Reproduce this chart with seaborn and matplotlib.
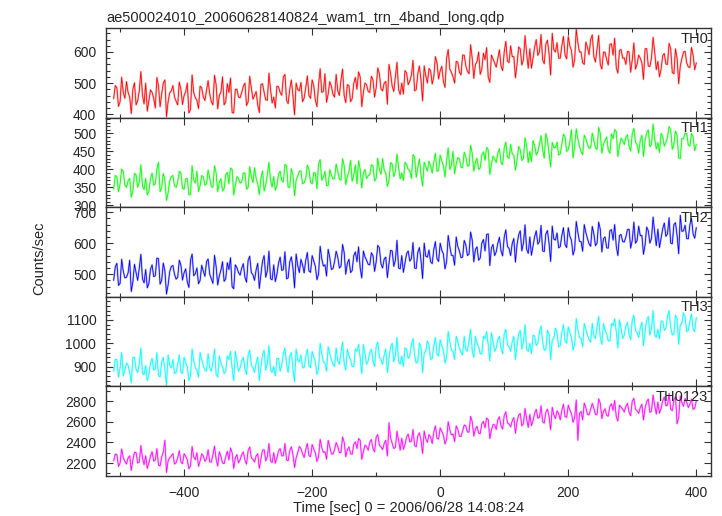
import numpy as np
import pandas as pd
import matplotlib
matplotlib.use("Agg")
import matplotlib.pyplot as plt
from matplotlib.ticker import MultipleLocator
import seaborn as sns

sns.set_style("ticks")
plt.rcParams['font.family'] = ['Liberation Sans', 'DejaVu Sans']

# time bins (sec): full 5 s grid and the half-step grid in between
time_a = np.arange(-510, 401, 5)
time_b = np.arange(-507.5, 400, 5)

th0_a = [450, 485, 440, 470, 505, 455, 480, 430, 475, 460,
         500, 445, 470, 420, 490, 465, 510, 440, 475, 455,
         430, 480, 460, 500, 415, 470, 445, 490, 455, 475,
         465, 430, 495, 460, 520, 440, 470, 405, 480, 455,
         470, 500, 440, 485, 460, 430, 495, 470, 445, 480,
         455, 490, 470, 520, 445, 480, 460, 500, 475, 440,
         485, 460, 510, 445, 495, 470, 530, 465, 490, 455,
         475, 510, 460, 495, 440, 500, 480, 520, 470, 495,
         470, 510, 485, 530, 475, 505, 560, 490, 520, 480,
         500, 540, 495, 525, 475, 530, 510, 555, 500, 540,
         520, 565, 540, 505, 580, 545, 520, 570, 535, 590,
         555, 530, 580, 560, 600, 545, 575, 520, 590, 565,
         580, 555, 600, 570, 620, 585, 560, 610, 575, 595,
         610, 580, 640, 600, 575, 625, 595, 660, 600, 580,
         620, 590, 650, 605, 575, 630, 600, 560, 615, 640,
         585, 610, 560, 600, 575, 625, 590, 550, 605, 580,
         560, 600, 575, 545, 590, 565, 610, 555, 580, 600,
         570, 545, 595, 560, 610, 530, 580, 555, 600, 565,
         550, 590, 565]
th0_b = [492, 425, 519, 451, 470, 402, 501, 443, 537, 433,
         410, 478, 451, 518, 424, 500, 392, 469, 492, 442,
         503, 431, 472, 404, 526, 453, 418, 485, 444, 508,
         440, 525, 417, 471, 430, 498, 516, 404, 480, 453,
         490, 428, 522, 448, 473, 405, 498, 446, 532, 436,
         420, 488, 461, 528, 434, 510, 398, 479, 502, 452,
         523, 451, 492, 424, 546, 473, 438, 505, 464, 528,
         460, 545, 437, 491, 450, 518, 536, 424, 500, 473,
         522, 455, 549, 481, 500, 432, 531, 473, 567, 463,
         465, 533, 506, 573, 479, 555, 443, 524, 547, 497,
         585, 513, 554, 486, 608, 535, 500, 567, 526, 590,
         538, 623, 515, 569, 528, 596, 614, 502, 578, 551,
         607, 540, 634, 566, 585, 517, 616, 558, 652, 548,
         548, 616, 589, 656, 562, 638, 526, 607, 630, 580,
         650, 578, 619, 551, 673, 600, 565, 632, 591, 655,
         568, 653, 545, 599, 558, 626, 644, 532, 608, 581,
         602, 535, 629, 561, 580, 512, 611, 553, 647, 543,
         520, 588, 561, 628, 534, 610, 498, 579, 602, 552,
         615, 543]

th1_a = [345, 380, 360, 395, 350, 375, 340, 385, 365, 355,
         375, 340, 390, 360, 420, 350, 370, 335, 380, 355,
         365, 390, 345, 375, 330, 370, 395, 355, 380, 360,
         375, 350, 390, 365, 340, 385, 360, 400, 355, 375,
         365, 390, 350, 380, 405, 360, 375, 340, 385, 370,
         380, 355, 395, 365, 410, 350, 385, 370, 395, 360,
         375, 400, 360, 390, 415, 370, 395, 355, 385, 375,
         395, 370, 410, 380, 425, 385, 360, 400, 390, 375,
         385, 410, 375, 400, 430, 390, 370, 415, 395, 405,
         390, 420, 400, 375, 435, 405, 385, 420, 395, 410,
         420, 395, 440, 410, 425, 400, 450, 415, 430, 405,
         435, 410, 445, 420, 400, 440, 425, 455, 415, 430,
         445, 420, 460, 435, 470, 440, 425, 455, 430, 465,
         450, 480, 440, 470, 455, 500, 445, 475, 460, 440,
         470, 490, 455, 510, 465, 485, 450, 495, 470, 460,
         480, 455, 500, 470, 490, 445, 485, 505, 465, 480,
         490, 465, 500, 475, 445, 495, 480, 510, 470, 485,
         475, 500, 465, 490, 510, 470, 495, 430, 485, 500,
         465, 490, 470]
th1_b = [383, 338, 401, 356, 368, 323, 389, 350, 413, 344,
         329, 374, 356, 401, 338, 389, 314, 368, 383, 350,
         395, 347, 374, 329, 410, 362, 338, 383, 356, 398,
         353, 410, 338, 374, 347, 392, 404, 329, 380, 362,
         390, 345, 408, 363, 375, 330, 396, 357, 420, 351,
         342, 387, 369, 414, 351, 402, 327, 381, 396, 363,
         412, 364, 391, 346, 427, 379, 355, 400, 373, 415,
         373, 430, 358, 394, 367, 412, 424, 349, 400, 382,
         413, 368, 431, 386, 398, 353, 419, 380, 443, 374,
         369, 414, 396, 441, 378, 429, 354, 408, 423, 390,
         445, 397, 424, 379, 460, 412, 388, 433, 406, 448,
         410, 467, 395, 431, 404, 449, 461, 386, 437, 419,
         458, 413, 476, 431, 443, 398, 464, 425, 488, 419,
         422, 467, 449, 494, 431, 482, 407, 461, 476, 443,
         498, 450, 477, 432, 513, 465, 441, 486, 459, 501,
         460, 517, 445, 481, 454, 499, 511, 436, 487, 469,
         496, 451, 514, 469, 481, 436, 502, 463, 526, 457,
         447, 492, 474, 519, 456, 507, 432, 486, 501, 468,
         500, 452]

th2_a = [480, 535, 470, 510, 490, 545, 475, 505, 520, 485,
         515, 470, 530, 495, 550, 480, 510, 465, 525, 500,
         490, 530, 505, 475, 545, 495, 520, 480, 510, 540,
         500, 470, 525, 495, 540, 485, 515, 460, 530, 505,
         520, 490, 545, 505, 480, 535, 500, 560, 510, 485,
         530, 500, 555, 515, 485, 540, 520, 565, 505, 530,
         545, 510, 560, 525, 500, 550, 530, 580, 515, 540,
         555, 525, 570, 535, 505, 560, 540, 520, 575, 545,
         530, 560, 540, 585, 520, 555, 535, 575, 545, 520,
         560, 535, 575, 550, 520, 570, 545, 600, 555, 540,
         580, 550, 600, 565, 540, 590, 560, 620, 575, 555,
         595, 565, 610, 580, 545, 600, 575, 630, 585, 560,
         600, 575, 620, 590, 560, 615, 595, 640, 600, 580,
         620, 590, 640, 605, 575, 630, 600, 655, 610, 585,
         625, 595, 650, 610, 580, 635, 605, 660, 615, 590,
         630, 600, 645, 615, 585, 640, 610, 590, 625, 605,
         620, 645, 610, 600, 655, 625, 595, 640, 615, 635,
         645, 615, 665, 630, 600, 660, 625, 690, 640, 615,
         660, 630, 650]
th2_b = [524, 464, 548, 488, 504, 444, 532, 480, 564, 472,
         456, 516, 492, 552, 468, 536, 436, 508, 528, 484,
         545, 481, 517, 457, 565, 501, 469, 529, 493, 549,
         485, 561, 465, 513, 477, 537, 553, 453, 521, 497,
         534, 474, 558, 498, 514, 454, 542, 490, 574, 482,
         476, 536, 512, 572, 488, 556, 456, 528, 548, 504,
         570, 506, 542, 482, 590, 526, 494, 554, 518, 574,
         520, 596, 500, 548, 512, 572, 588, 488, 556, 532,
         569, 509, 593, 533, 549, 489, 577, 525, 609, 517,
         506, 566, 542, 602, 518, 586, 486, 558, 578, 534,
         605, 541, 577, 517, 625, 561, 529, 589, 553, 609,
         560, 636, 540, 588, 552, 612, 628, 528, 596, 572,
         619, 559, 643, 583, 599, 539, 627, 575, 659, 567,
         561, 621, 597, 657, 573, 641, 541, 613, 633, 589,
         650, 586, 622, 562, 670, 606, 574, 634, 598, 654,
         592, 668, 572, 620, 584, 644, 660, 560, 628, 604,
         644, 584, 668, 608, 624, 564, 652, 600, 684, 592,
         586, 646, 622, 682, 598, 666, 566, 638, 658, 614,
         680, 616]

th3_a = [880, 930, 895, 860, 915, 875, 940, 890, 910, 870,
         905, 865, 935, 890, 860, 920, 885, 950, 895, 870,
         910, 875, 940, 900, 860, 925, 885, 960, 905, 880,
         895, 920, 870, 945, 900, 880, 930, 895, 965, 880,
         925, 890, 950, 905, 875, 940, 900, 970, 915, 885,
         900, 935, 880, 955, 910, 945, 890, 975, 920, 895,
         940, 905, 965, 920, 890, 955, 915, 985, 930, 900,
         925, 960, 915, 975, 930, 900, 965, 940, 995, 910,
         960, 925, 985, 940, 910, 975, 935, 1000, 950, 920,
         945, 980, 935, 995, 950, 920, 985, 960, 1010, 930,
         990, 955, 1015, 970, 940, 1005, 965, 1030, 980, 950,
         975, 1010, 970, 1030, 985, 955, 1020, 995, 1045, 965,
         1015, 980, 1040, 995, 965, 1030, 990, 1055, 1005, 975,
         1000, 1035, 990, 1050, 1005, 975, 1040, 1015, 1065, 985,
         1045, 1010, 1070, 1025, 995, 1060, 1020, 1085, 1035, 1005,
         1030, 1070, 1025, 1085, 1040, 1010, 1075, 1050, 1100, 1020,
         1075, 1040, 1100, 1055, 1025, 1090, 1050, 1115, 1065, 1035,
         1060, 1095, 1055, 1115, 1070, 1040, 1105, 1080, 1130, 1050,
         1095, 1060, 1110]
th3_b = [930, 855, 960, 885, 905, 830, 940, 875, 980, 865,
         840, 915, 885, 960, 855, 940, 820, 905, 930, 875,
         950, 870, 915, 840, 975, 895, 855, 930, 885, 955,
         880, 975, 855, 915, 870, 945, 965, 840, 925, 895,
         940, 865, 970, 895, 915, 840, 950, 885, 990, 875,
         860, 935, 905, 980, 875, 960, 835, 925, 950, 895,
         975, 895, 940, 865, 1000, 920, 880, 955, 910, 980,
         910, 1005, 885, 945, 900, 975, 995, 870, 955, 925,
         975, 900, 1005, 930, 950, 875, 985, 920, 1025, 910,
         900, 975, 945, 1020, 915, 1000, 875, 965, 990, 935,
         1025, 945, 990, 915, 1050, 970, 930, 1005, 960, 1030,
         965, 1060, 940, 1000, 955, 1030, 1050, 925, 1010, 980,
         1030, 955, 1060, 985, 1005, 930, 1040, 975, 1080, 965,
         955, 1030, 1000, 1075, 970, 1055, 930, 1020, 1045, 990,
         1080, 1000, 1045, 970, 1105, 1025, 985, 1060, 1015, 1085,
         1020, 1115, 995, 1055, 1010, 1085, 1105, 980, 1065, 1035,
         1090, 1015, 1120, 1045, 1065, 990, 1100, 1035, 1140, 1025,
         1020, 1095, 1065, 1140, 1035, 1120, 995, 1085, 1110, 1055,
         1125, 1050]

th0123_a = [2220, 2280, 2200, 2250, 2190, 2270, 2230, 2300, 2210, 2250,
            2270, 2200, 2310, 2230, 2180, 2260, 2420, 2220, 2270, 2190,
            2250, 2210, 2290, 2230, 2170, 2260, 2300, 2220, 2270, 2240,
            2210, 2280, 2240, 2310, 2200, 2260, 2230, 2300, 2250, 2200,
            2280, 2230, 2320, 2250, 2210, 2290, 2240, 2330, 2260, 2220,
            2300, 2250, 2340, 2270, 2230, 2320, 2280, 2250, 2360, 2290,
            2330, 2270, 2380, 2300, 2260, 2350, 2310, 2420, 2290, 2330,
            2360, 2300, 2400, 2330, 2290, 2380, 2340, 2420, 2310, 2360,
            2400, 2340, 2450, 2370, 2330, 2420, 2590, 2390, 2350, 2420,
            2440, 2380, 2480, 2410, 2370, 2460, 2420, 2510, 2400, 2450,
            2500, 2440, 2540, 2470, 2430, 2520, 2480, 2560, 2460, 2510,
            2560, 2500, 2600, 2530, 2490, 2580, 2540, 2620, 2520, 2570,
            2620, 2560, 2660, 2590, 2550, 2640, 2600, 2680, 2580, 2630,
            2670, 2610, 2720, 2640, 2600, 2690, 2650, 2740, 2630, 2680,
            2710, 2650, 2760, 2680, 2640, 2420, 2700, 2780, 2670, 2720,
            2730, 2670, 2780, 2700, 2660, 2750, 2710, 2650, 2760, 2720,
            2750, 2690, 2800, 2720, 2680, 2770, 2730, 2820, 2700, 2760,
            2790, 2730, 2840, 2760, 2720, 2810, 2580, 2850, 2750, 2790,
            2770, 2720, 2800]
th0123_b = [2288, 2168, 2336, 2216, 2248, 2128, 2304, 2200, 2368, 2184,
            2147, 2267, 2219, 2339, 2171, 2307, 2107, 2251, 2291, 2203,
            2320, 2192, 2264, 2144, 2360, 2232, 2168, 2288, 2216, 2328,
            2210, 2362, 2170, 2266, 2194, 2314, 2346, 2146, 2282, 2234,
            2308, 2188, 2356, 2236, 2268, 2148, 2324, 2220, 2388, 2204,
            2197, 2317, 2269, 2389, 2221, 2357, 2157, 2301, 2341, 2253,
            2390, 2262, 2334, 2214, 2430, 2302, 2238, 2358, 2286, 2398,
            2300, 2452, 2260, 2356, 2284, 2404, 2436, 2236, 2372, 2324,
            2428, 2308, 2476, 2356, 2388, 2268, 2444, 2340, 2508, 2324,
            2332, 2452, 2404, 2524, 2356, 2492, 2292, 2436, 2476, 2388,
            2560, 2432, 2504, 2384, 2600, 2472, 2408, 2528, 2456, 2568,
            2500, 2652, 2460, 2556, 2484, 2604, 2636, 2436, 2572, 2524,
            2648, 2528, 2696, 2576, 2608, 2488, 2664, 2560, 2728, 2544,
            2562, 2682, 2634, 2754, 2586, 2722, 2522, 2666, 2706, 2618,
            2770, 2642, 2714, 2594, 2810, 2682, 2618, 2738, 2666, 2778,
            2670, 2822, 2630, 2726, 2654, 2774, 2806, 2606, 2742, 2694,
            2778, 2658, 2826, 2706, 2738, 2618, 2794, 2690, 2858, 2674,
            2682, 2802, 2754, 2874, 2706, 2842, 2642, 2786, 2826, 2738,
            2820, 2730]

names = ["TH0", "TH1", "TH2", "TH3", "TH0123"]
series = [(th0_a, th0_b), (th1_a, th1_b), (th2_a, th2_b), (th3_a, th3_b), (th0123_a, th0123_b)]
colors = ["#ff0000", "#00ff00", "#0000ff", "#00ffff", "#ff00ff"]
ylims = [(389, 677), (295, 544), (427, 716), (815, 1199), (2074, 2942)]
major = [100, 50, 100, 100, 200]
minor = [20, 10, 20, 20, 100]

fig, axes = plt.subplots(5, 1, figsize=(7.22, 5.16), dpi=100, sharex=True)
fig.subplots_adjust(left=0.1468, right=0.9848, top=0.9457, bottom=0.0775, hspace=0)

for ax, name, (ya, yb), c, yl, mj, mn in zip(axes, names, series, colors, ylims, major, minor):
    df = pd.concat([pd.DataFrame({"t": time_a, "rate": ya}),
                    pd.DataFrame({"t": time_b, "rate": yb})]).sort_values("t")
    ax.plot(df["t"], df["rate"], color=c, lw=1.4, alpha=0.3)
    sns.lineplot(data=df, x="t", y="rate", ax=ax, color=c, linewidth=0.55)
    ax.set_ylim(*yl)
    ax.set_xlim(-522, 423)
    ax.yaxis.set_major_locator(MultipleLocator(mj))
    ax.yaxis.set_minor_locator(MultipleLocator(mn))
    ax.xaxis.set_major_locator(MultipleLocator(200))
    ax.xaxis.set_minor_locator(MultipleLocator(100))
    ax.tick_params(which='both', direction='in', top=True, right=True, labelsize=10,
                   color='#333333')
    ax.tick_params(axis='y', which='major', pad=7)
    ax.tick_params(axis='x', which='major', pad=7)
    ax.tick_params(which='major', length=5, width=0.8)
    ax.tick_params(which='minor', length=3, width=0.8)
    for sp in ax.spines.values():
        sp.set_linewidth(1.0)
        sp.set_color('#333333')
    ax.set_xlabel("")
    ax.set_ylabel("")
    ax.text(0.995, 0.96, name, transform=ax.transAxes, ha='right', va='top', fontsize=10.5)

axes[-1].set_xlabel("Time [sec] 0 = 2006/06/28 14:08:24", fontsize=10.5, labelpad=1)
axes[0].set_title("ae500024010_20060628140824_wam1_trn_4band_long.qdp", loc='left',
                  fontsize=10.5, pad=4)
fig.text(0.055, 0.5, "Counts/sec", rotation=90, va='center', ha='center', fontsize=10.5)

plt.savefig("out.png", dpi=100)
